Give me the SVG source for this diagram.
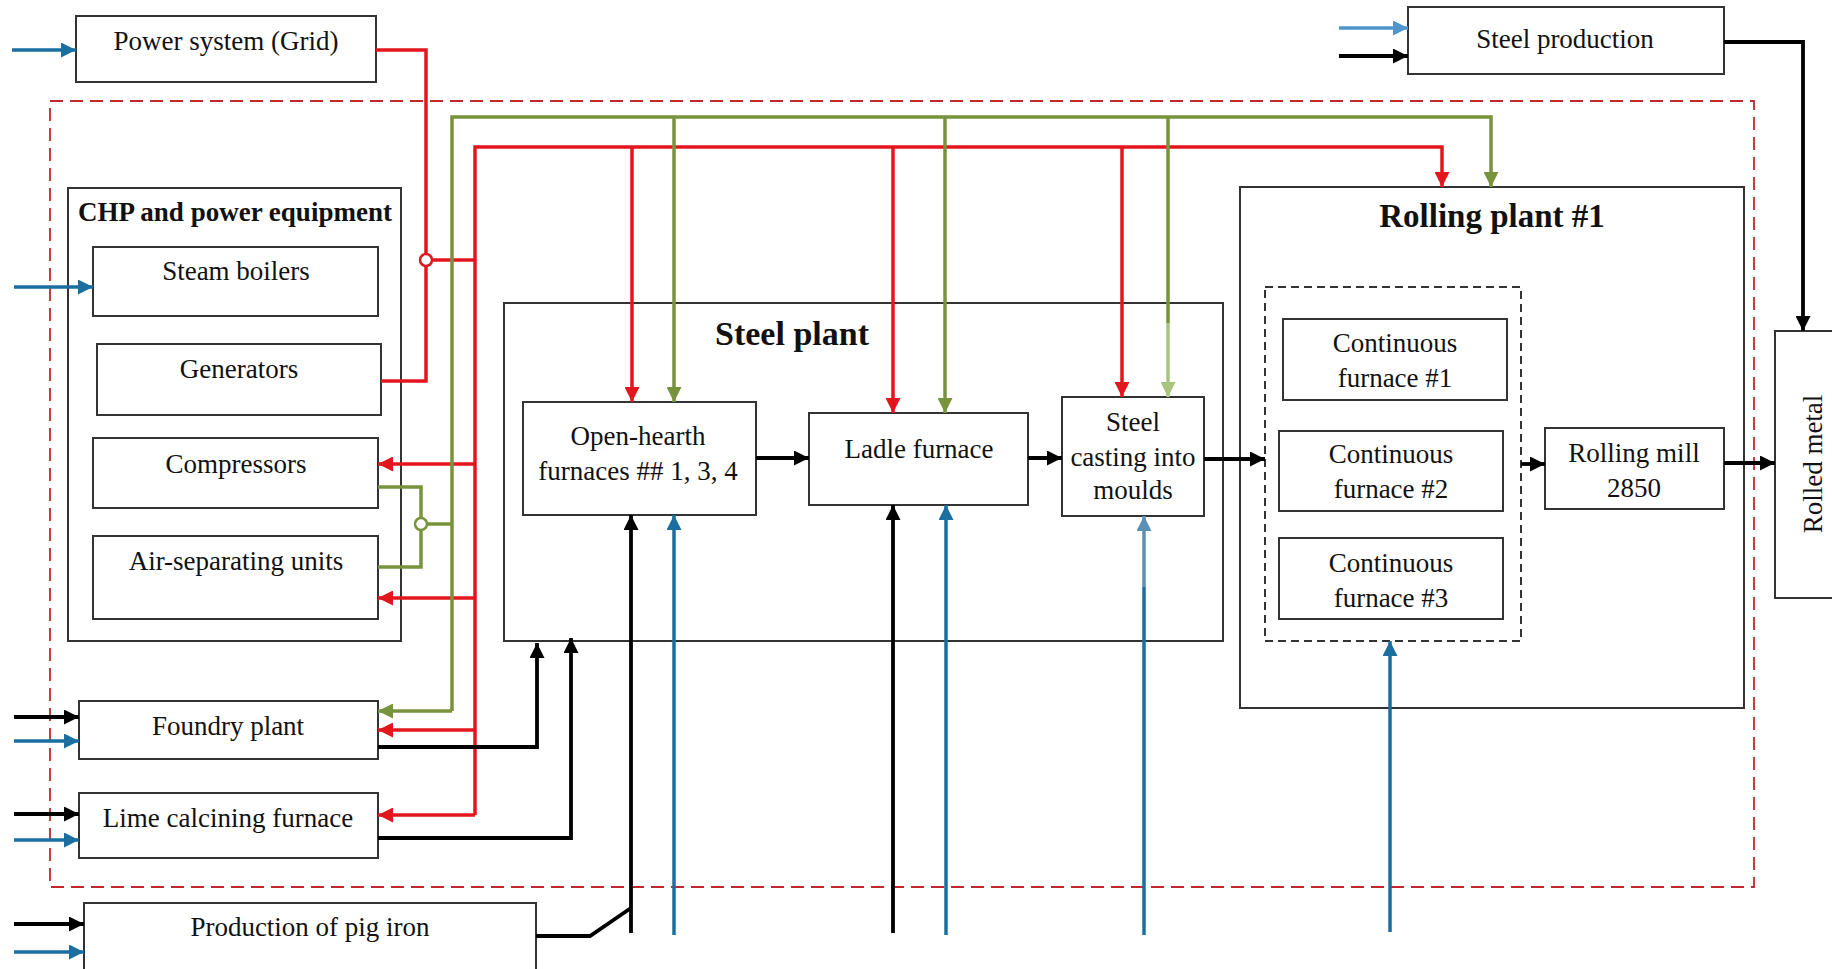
<svg xmlns="http://www.w3.org/2000/svg" width="1832" height="969" viewBox="0 0 1832 969">
<style>
.box{fill:#fff;stroke:#333;stroke-width:2}
.t{font-family:"Liberation Serif","Times New Roman",serif;font-size:27px;fill:#111;text-anchor:middle}
.tb{font-family:"Liberation Serif","Times New Roman",serif;font-weight:bold;fill:#111;text-anchor:middle}
.r{fill:none;stroke:#e3161e;stroke-width:3.5}
.g{fill:none;stroke:#77933c;stroke-width:3.5}
.lg{fill:none;stroke:#a9c47f;stroke-width:3.5}
.b{fill:none;stroke:#000;stroke-width:3.8}
.bl{fill:none;stroke:#1a6ea0;stroke-width:3.5}
.lbl{fill:none;stroke:#5b8fb5;stroke-width:3.5}
.sb{fill:none;stroke:#4f94cd;stroke-width:3.5}
</style>
<defs>
<marker id="ar" markerUnits="userSpaceOnUse" markerWidth="15" markerHeight="15" refX="15" refY="7.5" orient="auto"><path d="M0,0 L15,7.5 L0,15 z" fill="#e3161e"/></marker>
<marker id="ag" markerUnits="userSpaceOnUse" markerWidth="15" markerHeight="15" refX="15" refY="7.5" orient="auto"><path d="M0,0 L15,7.5 L0,15 z" fill="#77933c"/></marker>
<marker id="alg" markerUnits="userSpaceOnUse" markerWidth="15" markerHeight="15" refX="15" refY="7.5" orient="auto"><path d="M0,0 L15,7.5 L0,15 z" fill="#a9c47f"/></marker>
<marker id="ab" markerUnits="userSpaceOnUse" markerWidth="15" markerHeight="15" refX="15" refY="7.5" orient="auto"><path d="M0,0 L15,7.5 L0,15 z" fill="#000"/></marker>
<marker id="abl" markerUnits="userSpaceOnUse" markerWidth="15" markerHeight="15" refX="15" refY="7.5" orient="auto"><path d="M0,0 L15,7.5 L0,15 z" fill="#1a6ea0"/></marker>
<marker id="albl" markerUnits="userSpaceOnUse" markerWidth="15" markerHeight="15" refX="15" refY="7.5" orient="auto"><path d="M0,0 L15,7.5 L0,15 z" fill="#5b8fb5"/></marker>
<marker id="asb" markerUnits="userSpaceOnUse" markerWidth="15" markerHeight="15" refX="15" refY="7.5" orient="auto"><path d="M0,0 L15,7.5 L0,15 z" fill="#4f94cd"/></marker>
</defs>
<rect width="1832" height="969" fill="#fff"/>

<!-- boundary -->
<rect id="boundary" x="50" y="101" width="1704" height="786" fill="none" stroke="#c0282d" stroke-width="1.8" stroke-dasharray="13,7"/>

<!-- container nodes -->
<g id="chp"><rect class="box" x="68" y="188" width="333" height="453"/><text class="tb" x="235" y="221" font-size="27">CHP and power equipment</text></g>
<g id="steel-plant"><rect class="box" x="504" y="303" width="719" height="338"/><text class="tb" x="792" y="345" font-size="34">Steel plant</text></g>
<g id="rolling-plant"><rect class="box" x="1240" y="187" width="504" height="521"/><text class="tb" x="1492" y="227" font-size="33">Rolling plant #1</text></g>
<g id="furnace-group"><rect x="1265" y="287" width="256" height="354" fill="none" stroke="#333" stroke-width="2" stroke-dasharray="8,5"/></g>

<g id="power-system"><rect class="box" x="76" y="16" width="300" height="66"/><text class="t" x="226" y="50">Power system (Grid)</text></g>
<g id="steel-production"><rect class="box" x="1408" y="7" width="316" height="67"/><text class="t" x="1565" y="48">Steel production</text></g>
<g id="steam-boilers"><rect class="box" x="93" y="247" width="285" height="69"/><text class="t" x="236" y="280">Steam boilers</text></g>
<g id="generators"><rect class="box" x="97" y="344" width="284" height="71"/><text class="t" x="239" y="378">Generators</text></g>
<g id="compressors"><rect class="box" x="93" y="438" width="285" height="70"/><text class="t" x="236" y="473">Compressors</text></g>
<g id="air-separating"><rect class="box" x="93" y="536" width="285" height="83"/><text class="t" x="236" y="570">Air-separating units</text></g>
<g id="foundry"><rect class="box" x="79" y="701" width="299" height="58"/><text class="t" x="228" y="735">Foundry plant</text></g>
<g id="lime"><rect class="box" x="79" y="793" width="299" height="65"/><text class="t" x="228" y="827">Lime calcining furnace</text></g>
<g id="pig-iron"><rect class="box" x="84" y="903" width="452" height="80"/><text class="t" x="310" y="936">Production of pig iron</text></g>
<g id="open-hearth"><rect class="box" x="523" y="402" width="233" height="113"/><text class="t" x="638" y="445">Open-hearth</text><text class="t" x="638" y="480">furnaces ## 1, 3, 4</text></g>
<g id="ladle"><rect class="box" x="809" y="413" width="219" height="92"/><text class="t" x="919" y="458">Ladle furnace</text></g>
<g id="casting"><rect class="box" x="1062" y="397" width="142" height="119"/><text class="t" x="1133" y="431">Steel</text><text class="t" x="1133" y="466">casting into</text><text class="t" x="1133" y="499">moulds</text></g>
<g id="cf1"><rect class="box" x="1283" y="319" width="224" height="81"/><text class="t" x="1395" y="352">Continuous</text><text class="t" x="1395" y="387">furnace #1</text></g>
<g id="cf2"><rect class="box" x="1279" y="431" width="224" height="80"/><text class="t" x="1391" y="463">Continuous</text><text class="t" x="1391" y="498">furnace #2</text></g>
<g id="cf3"><rect class="box" x="1279" y="538" width="224" height="81"/><text class="t" x="1391" y="572">Continuous</text><text class="t" x="1391" y="607">furnace #3</text></g>
<g id="rolling-mill"><rect class="box" x="1545" y="428" width="179" height="81"/><text class="t" x="1634" y="462">Rolling mill</text><text class="t" x="1634" y="497">2850</text></g>
<g id="rolled-metal"><rect class="box" x="1775" y="331" width="70" height="267"/><text class="t" font-size="26" transform="translate(1822,464) rotate(-90)">Rolled metal</text></g>

<g id="connectors">
<!-- red electricity -->
<path class="r" d="M376,50 H426 V254 M426,266 V381 H381"/>
<circle cx="426" cy="260" r="6" fill="#fff" stroke="#e3161e" stroke-width="2.5"/>
<path class="r" d="M432,260 H475"/>
<path class="r" d="M475,815 V147 H1442 V187" marker-end="url(#ar)"/>
<path class="r" d="M475,464 H378" marker-end="url(#ar)"/>
<path class="r" d="M475,598 H378" marker-end="url(#ar)"/>
<path class="r" d="M475,730 H378" marker-end="url(#ar)"/>
<path class="r" d="M475,815 H378" marker-end="url(#ar)"/>
<path class="r" d="M632,147 V402" marker-end="url(#ar)"/>
<path class="r" d="M893,147 V413" marker-end="url(#ar)"/>
<path class="r" d="M1122,147 V397" marker-end="url(#ar)"/>

<!-- green (oxygen/air) -->
<path class="g" d="M378,487 H421 V518 M421,530 V567 H378"/>
<circle cx="421" cy="524" r="6" fill="#fff" stroke="#77933c" stroke-width="2.5"/>
<path class="g" d="M427,524 H452"/>
<path class="g" d="M452,711 V117 H1491 V187" marker-end="url(#ag)"/>
<path class="g" d="M452,711 H378" marker-end="url(#ag)"/>
<path class="g" d="M674,117 V402" marker-end="url(#ag)"/>
<path class="g" d="M945,117 V413" marker-end="url(#ag)"/>
<path class="g" d="M1168,117 V323"/>
<path class="lg" d="M1168,323 V397" marker-end="url(#alg)"/>

<!-- black material flows -->
<path class="b" d="M378,747 H537 V643" marker-end="url(#ab)"/>
<path class="b" d="M378,838 H571 V638" marker-end="url(#ab)"/>
<path class="b" d="M536,936 H590 L631,908"/>
<path class="b" d="M631,933 V515" marker-end="url(#ab)"/>
<path class="b" d="M893,933 V505" marker-end="url(#ab)"/>
<path class="b" d="M756,458 H809" marker-end="url(#ab)"/>
<path class="b" d="M1028,458 H1062" marker-end="url(#ab)"/>
<path class="b" d="M1204,459 H1265" marker-end="url(#ab)"/>
<path class="b" d="M1521,464 H1545" marker-end="url(#ab)"/>
<path class="b" d="M1724,463 H1775" marker-end="url(#ab)"/>
<path class="b" d="M1724,42 H1803 V331" marker-end="url(#ab)"/>
<path class="b" d="M1339,56 H1408" marker-end="url(#ab)"/>
<path class="b" d="M14,717 H79" marker-end="url(#ab)"/>
<path class="b" d="M14,814 H79" marker-end="url(#ab)"/>
<path class="b" d="M14,924 H84" marker-end="url(#ab)"/>

<!-- blue (fuel) -->
<path class="bl" d="M12,50 H76" marker-end="url(#abl)"/>
<path class="bl" d="M14,287 H93" marker-end="url(#abl)"/>
<path class="bl" d="M14,741 H79" marker-end="url(#abl)"/>
<path class="bl" d="M14,840 H79" marker-end="url(#abl)"/>
<path class="bl" d="M14,952 H84" marker-end="url(#abl)"/>
<path class="bl" d="M674,935 V515" marker-end="url(#abl)"/>
<path class="bl" d="M946,935 V505" marker-end="url(#abl)"/>
<path class="bl" d="M1144,935 V587"/>
<path class="lbl" d="M1144,587 V516" marker-end="url(#albl)"/>
<path class="bl" d="M1390,932 V641" marker-end="url(#abl)"/>
<path class="sb" d="M1339,28 H1408" marker-end="url(#asb)"/>
</g>
</svg>
